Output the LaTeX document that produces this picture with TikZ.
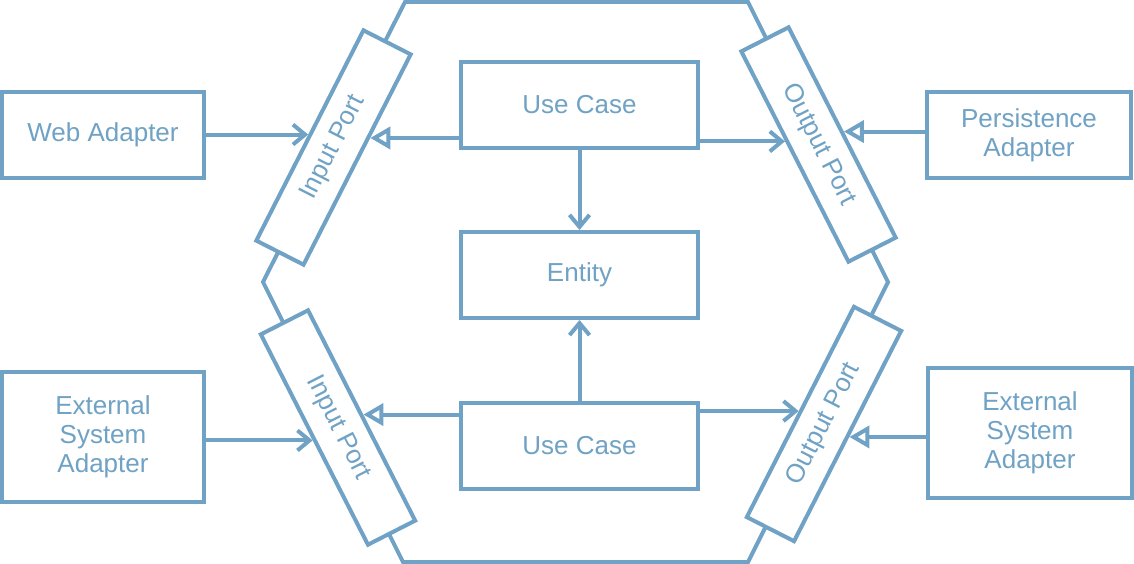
\documentclass[tikz,border=0pt]{standalone}
\usepackage{fontspec}
\setmainfont{Liberation Sans}
\usepackage{tikz}
\usetikzlibrary{positioning,calc,arrows.meta}
\definecolor{hexblue}{RGB}{111,162,196}
\tikzset{
  hexpic/.style={
    x=1pt,y=-1pt
    ,line width=4pt
    ,color=hexblue
    ,font=\fontsize{26}{29}\selectfont
  }
  ,box/.style={draw=hexblue,fill=white,align=center,inner sep=0pt}
  ,core/.style={box,minimum width=237pt,minimum height=86pt}
  ,adapter/.style={box,minimum width=202pt,minimum height=86pt}
  ,extadapter/.style={adapter,minimum height=130pt}
  ,port/.style={box,minimum width=236pt,minimum height=53pt}
  ,dep/.style={-{Straight Barb[length=12pt,width=20pt]}}
  ,impl/.style={-{Triangle[open,length=20pt,width=22pt]}}
}

\begin{document}
\begin{tikzpicture}[hexpic]
    \useasboundingbox (0,0) rectangle (1134,564);
    % hexagon
    \draw (405,2) -- (748,2) -- (888,282) -- (748,562) -- (403,562) -- (263,282) -- cycle;
    % core
    \node[core] (ent) at (579.5,275) {Entity};
    \node[core,above=80pt of ent] (uc1) {Use Case};
    \node[core,below=81pt of ent] (uc2) {Use Case};
    % ports
    \node[port,rotate=63] (ip1) at (333.5,147.5) {Input Port};
    \node[port,rotate=-63] (op1) at (818.5,144.5) {Output Port};
    \node[port,rotate=-63] (ip2) at (338,427.5) {Input Port};
    \node[port,rotate=63] (op2) at (824,424) {Output Port};
    % adapters
    \node[adapter] (web) at (103,135) {Web Adapter};
    \node[adapter,minimum width=204pt] (pers) at (1029,135) {Persistence\\Adapter};
    \node[extadapter] (ext1) at (103,437) {External\\System\\Adapter};
    \node[extadapter,minimum width=204pt] (ext2) at (1030,433) {External\\System\\Adapter};
    % ends on the ports
    \coordinate (ip1in) at ($(ip1.south)!0.21!(ip1.south east)$);
    \coordinate (op1in) at ($(op1.south)!0.15!(op1.south west)$);
    % connectors
    \draw[dep] (uc1) -- (ent);
    \draw[dep] (uc2) -- (ent);
    \draw[dep] (ip1.north -| web.east) -- (ip1.north);
    \draw[impl] (ip1in -| uc1.west) -- (ip1in);
    \draw[dep] (op1in -| uc1.east) -- (op1in);
    \draw[impl] (op1.north -| pers.west) -- (op1.north);
    \draw[dep] (ip2.south -| ext1.east) -- (ip2.south);
    \draw[impl] (ip2.north -| uc2.west) -- (ip2.north);
    \draw[dep] (op2.north -| uc2.east) -- (op2.north);
    \draw[impl] (op2.south -| ext2.west) -- (op2.south);
\end{tikzpicture}
\end{document}
